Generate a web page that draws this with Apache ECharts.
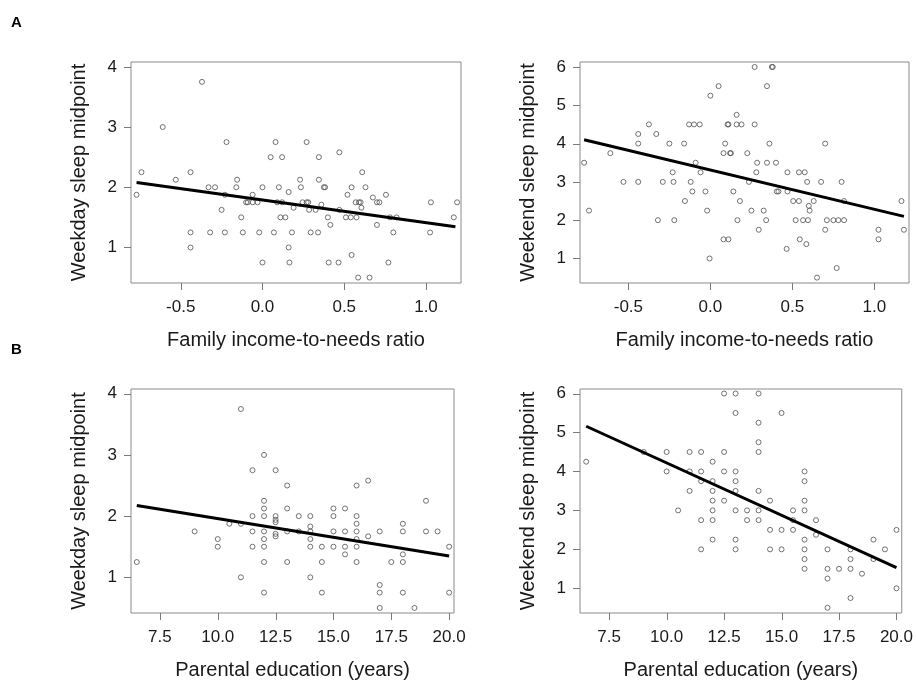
<!DOCTYPE html>
<html>
<head>
<meta charset="utf-8">
<script src="https://cdn.jsdelivr.net/npm/echarts@6/dist/echarts.min.js"></script>
<style>
  html, body { margin: 0; padding: 0; background: #fff; }
  #chart { width: 916px; height: 681px; }
</style>
</head>
<body>
<div id="chart"></div>
<script>
// A: income-to-needs vs weekday / weekend sleep midpoint
const incomeWeekday = [
  [-0.77, 1.875], [-0.74, 2.25], [-0.61, 3.0], [-0.37, 3.75], [-0.53, 2.125], [-0.44, 2.25],
  [-0.44, 1.25], [-0.44, 1.0], [-0.33, 2.0], [-0.29, 2.0], [-0.32, 1.25], [-0.22, 2.75],
  [-0.23, 1.875], [-0.25, 1.625], [-0.23, 1.25], [-0.155, 2.125], [-0.16, 2.0], [-0.13, 1.5],
  [-0.12, 1.25], [-0.06, 1.875], [-0.10, 1.75], [-0.09, 1.75], [-0.06, 1.75], [-0.03, 1.75],
  [0.0, 2.0], [-0.02, 1.25], [0.0, 0.75], [0.05, 2.5], [0.08, 2.75], [0.27, 2.75], [0.12, 2.5],
  [0.345, 2.5], [0.47, 2.58], [0.61, 2.25], [0.23, 2.125], [0.345, 2.125], [0.10, 2.0],
  [0.235, 2.0], [0.375, 2.0], [0.383, 2.0], [0.545, 2.0], [0.63, 2.0], [0.16, 1.92],
  [0.52, 1.875], [0.755, 1.875], [0.675, 1.83], [0.09, 1.75], [0.12, 1.75], [0.245, 1.75],
  [0.27, 1.75], [0.28, 1.75], [0.36, 1.71], [0.57, 1.75], [0.59, 1.75], [0.60, 1.75],
  [0.70, 1.75], [0.715, 1.75], [1.03, 1.75], [0.19, 1.66], [0.605, 1.66], [0.285, 1.625],
  [0.325, 1.625], [0.47, 1.625], [0.11, 1.5], [0.14, 1.5], [0.40, 1.5], [0.51, 1.5],
  [0.54, 1.5], [0.575, 1.5], [0.78, 1.5], [0.82, 1.5], [0.415, 1.375], [0.70, 1.375],
  [0.07, 1.25], [0.18, 1.25], [0.295, 1.25], [0.34, 1.25], [0.80, 1.25], [1.025, 1.25],
  [0.16, 1.0], [0.545, 0.875], [0.165, 0.75], [0.405, 0.75], [0.465, 0.75], [0.77, 0.75],
  [0.585, 0.5], [0.655, 0.5], [1.19, 1.75], [1.17, 1.5]
];
const incomeWeekend = [
  [-0.77, 3.5], [-0.74, 2.25], [-0.61, 3.75], [-0.53, 3.0], [-0.44, 4.25], [-0.44, 4.0],
  [-0.44, 3.0], [-0.375, 4.5], [-0.33, 4.25], [-0.32, 2.0], [-0.29, 3.0], [-0.25, 4.0],
  [-0.23, 3.25], [-0.225, 3.0], [-0.22, 2.0], [-0.16, 4.0], [-0.155, 2.5], [-0.13, 4.5],
  [-0.10, 4.5], [-0.065, 4.5], [-0.09, 3.5], [-0.06, 3.25], [-0.12, 3.0], [-0.11, 2.75],
  [-0.03, 2.75], [-0.02, 2.25], [-0.005, 1.0], [0.0, 5.25], [0.05, 5.5], [0.08, 1.5],
  [0.11, 1.5], [0.27, 6.0], [0.375, 6.0], [0.38, 6.0], [0.345, 5.5], [0.16, 4.75],
  [0.105, 4.5], [0.11, 4.5], [0.16, 4.5], [0.19, 4.5], [0.27, 4.5], [0.09, 4.0], [0.36, 4.0],
  [0.70, 4.0], [0.08, 3.75], [0.12, 3.75], [0.125, 3.75], [0.225, 3.75], [0.285, 3.5],
  [0.345, 3.5], [0.40, 3.5], [0.28, 3.25], [0.47, 3.25], [0.54, 3.25], [0.575, 3.25],
  [0.235, 3.0], [0.59, 3.0], [0.675, 3.0], [0.80, 3.0], [0.14, 2.75], [0.405, 2.75],
  [0.415, 2.75], [0.47, 2.75], [0.18, 2.5], [0.505, 2.5], [0.54, 2.5], [0.63, 2.5],
  [0.815, 2.5], [1.165, 2.5], [0.60, 2.375], [0.605, 2.25], [0.25, 2.25], [0.325, 2.25],
  [0.165, 2.0], [0.34, 2.0], [0.52, 2.0], [0.565, 2.0], [0.595, 2.0], [0.71, 2.0],
  [0.75, 2.0], [0.78, 2.0], [0.815, 2.0], [0.295, 1.75], [0.70, 1.75], [1.025, 1.75],
  [1.18, 1.75], [0.545, 1.5], [1.025, 1.5], [0.585, 1.375], [0.465, 1.25], [0.77, 0.75],
  [0.65, 0.5]
];
// B: parental education vs weekday / weekend sleep midpoint
const eduWeekday = [
  [6.5, 1.25], [9.0, 1.75], [10.0, 1.625], [10.0, 1.5], [10.5, 1.875], [11.0, 3.75],
  [11.0, 1.875], [11.0, 1.0], [11.5, 2.75], [11.5, 2.0], [11.5, 1.75], [11.5, 1.5],
  [12.0, 3.0], [12.0, 2.25], [12.0, 2.125], [12.0, 2.0], [12.0, 1.75], [12.0, 1.625],
  [12.0, 1.5], [12.0, 1.25], [12.0, 0.75], [12.5, 2.75], [12.5, 2.0], [12.5, 1.94],
  [12.5, 1.9], [12.5, 1.71], [12.5, 1.67], [13.0, 2.5], [13.0, 2.125], [13.0, 1.75],
  [13.0, 1.25], [13.5, 2.0], [13.5, 1.75], [14.0, 2.0], [14.0, 1.83], [14.0, 1.75],
  [14.0, 1.625], [14.0, 1.5], [14.0, 1.0], [14.5, 1.5], [14.5, 1.25], [14.5, 0.75],
  [15.0, 2.125], [15.0, 2.0], [15.0, 1.75], [15.0, 1.5], [15.5, 2.125], [15.5, 1.75],
  [15.5, 1.5], [15.5, 1.375], [16.0, 2.5], [16.0, 2.0], [16.0, 1.875], [16.0, 1.75],
  [16.0, 1.625], [16.0, 1.5], [16.0, 1.25], [16.5, 2.58], [16.5, 1.67], [17.0, 1.75],
  [17.0, 0.875], [17.0, 0.75], [17.0, 0.5], [17.5, 1.25], [18.0, 1.875], [18.0, 1.75],
  [18.0, 1.375], [18.0, 1.25], [18.0, 0.75], [18.5, 0.5], [19.0, 2.25], [19.0, 1.75],
  [19.5, 1.75], [20.0, 1.5], [20.0, 0.75]
];
const eduWeekend = [
  [6.5, 4.25], [9.0, 4.5], [10.0, 4.5], [10.0, 4.0], [10.5, 3.0], [11.0, 4.5], [11.0, 4.0],
  [11.0, 3.5], [11.5, 4.5], [11.5, 4.0], [11.5, 3.75], [11.5, 2.75], [11.5, 2.0],
  [12.0, 4.25], [12.0, 3.75], [12.0, 3.5], [12.0, 3.25], [12.0, 3.0], [12.0, 2.75],
  [12.0, 2.25], [12.5, 6.0], [12.5, 4.5], [12.5, 4.0], [12.5, 3.25], [13.0, 6.0],
  [13.0, 5.5], [13.0, 4.0], [13.0, 3.75], [13.0, 3.5], [13.0, 3.0], [13.0, 2.25],
  [13.0, 2.0], [13.5, 3.0], [13.5, 2.75], [14.0, 6.0], [14.0, 5.25], [14.0, 4.75],
  [14.0, 4.5], [14.0, 3.5], [14.0, 3.0], [14.0, 2.75], [14.5, 3.25], [14.5, 2.5],
  [14.5, 2.0], [15.0, 5.5], [15.0, 2.5], [15.0, 2.0], [15.5, 3.0], [15.5, 2.75],
  [15.5, 2.5], [16.0, 4.0], [16.0, 3.75], [16.0, 3.25], [16.0, 3.0], [16.0, 2.25],
  [16.0, 2.0], [16.0, 1.75], [16.0, 1.5], [16.5, 2.75], [16.5, 2.375], [17.0, 2.0],
  [17.0, 1.5], [17.0, 1.25], [17.0, 0.5], [17.5, 1.5], [18.0, 2.0], [18.0, 1.75],
  [18.0, 1.5], [18.0, 0.75], [18.5, 1.375], [19.0, 2.25], [19.0, 1.75], [19.5, 2.0],
  [20.0, 2.5], [20.0, 1.0]
];

// fitted lines (endpoints)
const incomeWeekdayFit = [[-0.77, 2.08], [1.18, 1.345]];
const incomeWeekendFit = [[-0.77, 4.10], [1.18, 2.10]];
const eduWeekdayFit = [[6.5, 2.175], [20.0, 1.35]];
const eduWeekendFit = [[6.5, 5.16], [20.0, 1.53]];

const incomeTicks = [-0.5, 0.0, 0.5, 1.0];
const eduTicks = [7.5, 10.0, 12.5, 15.0, 17.5, 20.0];
const weekdayTicks = [1, 2, 3, 4];
const weekendTicks = [1, 2, 3, 4, 5, 6];

// axis extents [min, max] per panel
const xRanges = [[-0.804, 1.214], [-0.795, 1.211], [6.25, 20.21], [6.23, 20.23]];
const yRanges = [[0.41, 4.08], [0.36, 6.13], [0.417, 4.077], [0.366, 6.116]];

const FONT = '"Liberation Sans", Arial, sans-serif';
const TXT = '#1a1a1a';
const BOX = '#8a8a8a';
const TICK_COLOR = '#7a7a7a';
const TICK = 7;

const grids = [
  { left: 131, top: 62, width: 330, height: 221 },
  { left: 580, top: 62, width: 329, height: 221 },
  { left: 131, top: 389, width: 323, height: 224 },
  { left: 580, top: 389, width: 323, height: 224 }
];

function xAx(i, ticks, name) {
  return {
    type: 'value', gridIndex: i, min: xRanges[i][0], max: xRanges[i][1],
    name: name, nameLocation: 'middle', nameGap: 47,
    nameTextStyle: { fontFamily: FONT, fontSize: 20, color: TXT },
    splitLine: { show: false },
    axisLine: { show: false, onZero: false },
    axisTick: { show: false },
    axisLabel: {
      customValues: ticks, margin: 16, fontFamily: FONT, fontSize: 17, color: TXT,
      formatter: v => v.toFixed(1)
    }
  };
}

function yAx(i, ticks, name) {
  return {
    type: 'value', gridIndex: i, min: yRanges[i][0], max: yRanges[i][1],
    name: name, nameLocation: 'middle', nameGap: 42,
    nameTextStyle: { fontFamily: FONT, fontSize: 20, color: TXT },
    splitLine: { show: false },
    axisLine: { show: false, onZero: false },
    axisTick: { show: false },
    axisLabel: {
      customValues: ticks, margin: 14, fontFamily: FONT, fontSize: 17, color: TXT,
      formatter: v => String(v)
    }
  };
}

// outward tick marks, placed through the panel's own scales
function ticksX(i, ticks) {
  return {
    type: 'custom', xAxisIndex: i, yAxisIndex: i, silent: true, clip: false, z: 5,
    data: ticks.map(t => [t, yRanges[i][0]]),
    renderItem: (params, api) => {
      const p = api.coord([api.value(0), api.value(1)]);
      const x = Math.round(p[0]) + 0.5;
      return { type: 'line', shape: { x1: x, y1: p[1], x2: x, y2: p[1] + TICK },
        style: { stroke: TICK_COLOR, lineWidth: 1 } };
    }
  };
}

function ticksY(i, ticks) {
  return {
    type: 'custom', xAxisIndex: i, yAxisIndex: i, silent: true, clip: false, z: 5,
    data: ticks.map(t => [xRanges[i][0], t]),
    renderItem: (params, api) => {
      const p = api.coord([api.value(0), api.value(1)]);
      const y = Math.round(p[1]) + 0.5;
      return { type: 'line', shape: { x1: p[0], y1: y, x2: p[0] - TICK, y2: y },
        style: { stroke: TICK_COLOR, lineWidth: 1 } };
    }
  };
}

function pts(i, data) {
  return {
    type: 'scatter', xAxisIndex: i, yAxisIndex: i, data: data,
    symbol: 'circle', symbolSize: 5,
    itemStyle: { color: 'rgba(0,0,0,0)', borderColor: '#505050', borderWidth: 1 }
  };
}

function fit(i, data) {
  return {
    type: 'line', xAxisIndex: i, yAxisIndex: i, data: data,
    symbol: 'none', lineStyle: { color: '#000', width: 3 }, z: 3
  };
}

const myChart = echarts.init(document.getElementById('chart'));
myChart.setOption({
  animation: false,
  backgroundColor: '#fff',
  grid: grids.map(g => Object.assign({ show: true, borderColor: BOX, borderWidth: 1, backgroundColor: 'transparent' }, g)),
  xAxis: [
    xAx(0, incomeTicks, 'Family income-to-needs ratio'),
    xAx(1, incomeTicks, 'Family income-to-needs ratio'),
    xAx(2, eduTicks, 'Parental education (years)'),
    xAx(3, eduTicks, 'Parental education (years)')
  ],
  yAxis: [
    yAx(0, weekdayTicks, 'Weekday sleep midpoint'),
    yAx(1, weekendTicks, 'Weekend sleep midpoint'),
    yAx(2, weekdayTicks, 'Weekday sleep midpoint'),
    yAx(3, weekendTicks, 'Weekend sleep midpoint')
  ],
  series: [
    pts(0, incomeWeekday), fit(0, incomeWeekdayFit), ticksX(0, incomeTicks), ticksY(0, weekdayTicks),
    pts(1, incomeWeekend), fit(1, incomeWeekendFit), ticksX(1, incomeTicks), ticksY(1, weekendTicks),
    pts(2, eduWeekday), fit(2, eduWeekdayFit), ticksX(2, eduTicks), ticksY(2, weekdayTicks),
    pts(3, eduWeekend), fit(3, eduWeekendFit), ticksX(3, eduTicks), ticksY(3, weekendTicks)
  ],
  graphic: [
    { type: 'text', left: 11, top: 15, style: { text: 'A', font: 'bold 15px ' + FONT, fill: '#000' } },
    { type: 'text', left: 11, top: 342, style: { text: 'B', font: 'bold 15px ' + FONT, fill: '#000' } }
  ]
});

window.addEventListener('resize', () => {
  myChart.resize();
});
</script>
</body>
</html>
